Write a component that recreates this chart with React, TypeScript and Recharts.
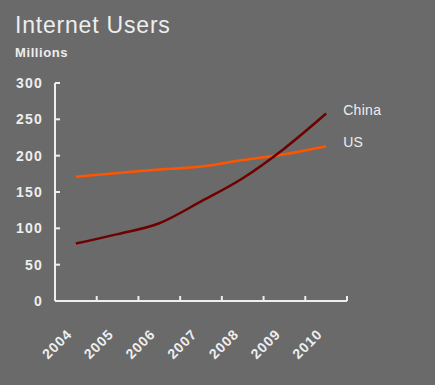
import { LineChart, Line, XAxis, YAxis, LabelList } from 'recharts'

const years = ['2004', '2005', '2006', '2007', '2008', '2009', '2010']
const china = [79, 92, 107, 137, 169, 210, 258]
const us = [171, 176, 181, 185, 194, 202, 213]
const yTicks = [0, 50, 100, 150, 200, 250, 300]

const data = years.map((year, i) => ({ year, china: china[i], us: us[i] }))

const BG = '#6a6a6a'
const INK = '#eeeeee'
const FONT = '"Liberation Sans", Arial, sans-serif'

const WIDTH = 435
const HEIGHT = 385
const MARGIN = { top: 83, right: 88, left: 0, bottom: 0 }
const Y_WIDTH = 55
const X_HEIGHT = 84
const BAND = (WIDTH - MARGIN.right - Y_WIDTH) / years.length

function YearTick(props: any) {
  const { x, y, payload } = props
  const tx = x - 3
  const ty = y + 34
  return (
    <g>
      <line x1={x + BAND / 2} x2={x + BAND / 2} y1={y} y2={y - 5} stroke={INK} strokeWidth={2} />
      <text
        x={tx}
        y={ty}
        transform={`rotate(-45, ${tx}, ${ty})`}
        textAnchor="end"
        fill={INK}
        fontFamily={FONT}
        fontWeight="bold"
        fontSize={14}
        letterSpacing={1}
      >
        {payload.value}
      </text>
    </g>
  )
}

const endLabel = (name: string) => (props: any) => {
  const { x, y, index } = props
  if (index !== years.length - 1) return null
  return (
    <text x={x + 17} y={y + 1} fill={INK} fontFamily={FONT} fontSize={14} letterSpacing={0.3}>
      {name}
    </text>
  )
}

export default function App() {
  return (
    <div
      style={{
        position: 'fixed',
        top: 0,
        left: 0,
        width: WIDTH,
        height: HEIGHT,
        background: BG,
        fontFamily: FONT,
      }}
    >
      <div style={{ position: 'absolute', left: 15, top: 12, color: INK, fontSize: 23, letterSpacing: 0.8, lineHeight: '26px' }}>
        Internet Users
      </div>
      <div style={{ position: 'absolute', left: 15, top: 45, color: INK, fontSize: 13, fontWeight: 'bold', letterSpacing: 0.6 }}>
        Millions
      </div>
      <LineChart width={WIDTH} height={HEIGHT} data={data} margin={MARGIN}>
        <XAxis
          dataKey="year"
          height={X_HEIGHT}
          interval={0}
          padding={{ left: BAND / 2, right: BAND / 2 }}
          tickSize={0}
          tickMargin={0}
          tickLine={false}
          axisLine={{ stroke: INK, strokeWidth: 2 }}
          tick={<YearTick />}
        />
        <YAxis
          width={Y_WIDTH}
          domain={[0, 300]}
          ticks={yTicks}
          interval={0}
          tickSize={-5}
          tickMargin={17}
          axisLine={{ stroke: INK, strokeWidth: 2 }}
          tickLine={{ stroke: INK, strokeWidth: 2 }}
          tick={{ fill: INK, fontSize: 14, fontWeight: 'bold', fontFamily: FONT, letterSpacing: 1.2 }}
        />
        <Line
          type="monotone"
          dataKey="us"
          stroke="#ff5500"
          strokeWidth={2.5}
          dot={false}
          isAnimationActive={false}
        >
          <LabelList dataKey="us" content={endLabel('US')} />
        </Line>
        <Line
          type="monotone"
          dataKey="china"
          stroke="#6e0000"
          strokeWidth={2.5}
          dot={false}
          isAnimationActive={false}
        >
          <LabelList dataKey="china" content={endLabel('China')} />
        </Line>
      </LineChart>
    </div>
  )
}
